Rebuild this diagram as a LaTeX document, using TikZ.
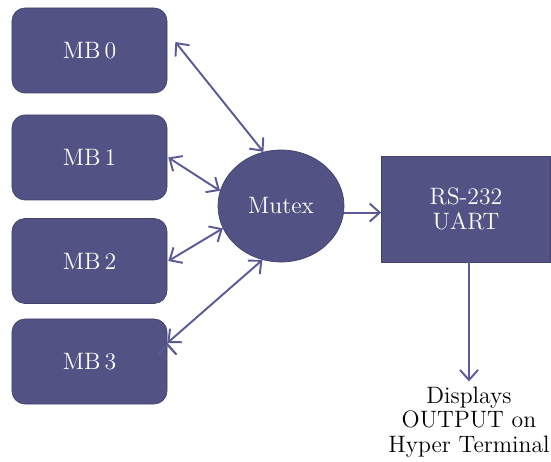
\documentclass[tikz,border=0pt]{standalone}
\usetikzlibrary{arrows.meta,shapes.geometric}
\definecolor{mbblue}{HTML}{525285}
\definecolor{mbline}{HTML}{5A5A98}
\begin{document}
\begin{tikzpicture}[font=\fontsize{13.5}{14}\selectfont, >={Straight Barb[length=2mm,width=3.6mm]}]
\useasboundingbox (0,0) rectangle (11.02,-9.24);
\tikzset{mbbox/.style={rectangle, rounded corners=2.6mm, draw=mbblue!80!black, fill=mbblue, text=white, minimum width=3.1cm, minimum height=1.7cm}}
\node (mbzero) at (1.79, -1.01) [mbbox] {MB\,0};
\node (mbone) at (1.79, -3.15) [mbbox] {MB\,1};
\node (mbtwo) at (1.79, -5.22) [mbbox] {MB\,2};
\node (mbthree) at (1.79, -7.23) [mbbox] {MB\,3};
\node (mutex) at (5.62, -4.12) [ellipse, draw=mbblue!80!black, fill=mbblue, text=white, minimum width=2.52cm, minimum height=2.24cm, inner sep=0pt] {Mutex};
\node (uart) at (9.32, -4.18) [rectangle, draw=mbblue!80!black, fill=mbblue, text=white, minimum width=3.38cm, minimum height=2.12cm, align=center] {RS-232\\UART};
\node (output) at (9.38, -8.44) [draw=none, align=center, inner sep=0pt, font=\fontsize{13.5}{14}\selectfont] {Displays\\OUTPUT on\\Hyper Terminal};
\draw [<->, draw=mbline, line width=1.1pt] ([shift={(0.16,0.17)}]mbzero.east) edge (mutex.108) ([shift={(0.02,0)}]mbone.east) edge (mutex.166) ([shift={(0.02,0)}]mbtwo.east) edge (mutex.201) ([shift={(0,0.37)}]mbthree.east) edge (mutex.251);
\draw [->, draw=mbline, line width=1.1pt] (mutex.-6) -- (mutex.-6 -| uart.west);
\draw [->, draw=mbline, line width=1.1pt] (output.north |- uart.south) -- ([yshift=1mm]output.north);
\end{tikzpicture}
\end{document}
